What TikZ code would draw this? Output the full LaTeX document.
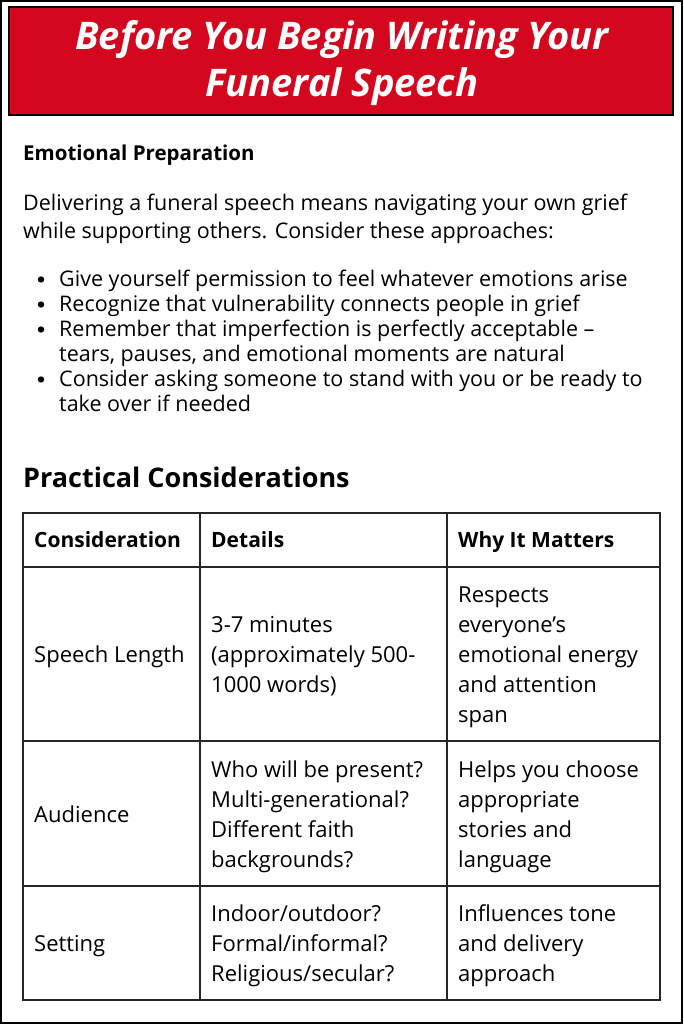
\documentclass[tikz,border=0pt]{standalone}
\usepackage{fontspec}
\setmainfont{Open Sans}
\definecolor{hred}{HTML}{D3071E}
\begin{document}
\begin{tikzpicture}[x=1pt,y=-1pt,
  t/.style={anchor=base west,inner sep=0pt,font=\fontsize{21.5}{21.5}\selectfont},
  tc/.style={t,font=\fontsize{22}{22}\selectfont},
  th/.style={t,font=\fontsize{21}{21}\selectfont\bfseries},
  ttl/.style={anchor=base,inner sep=0pt,text=white,font=\fontsize{38}{38}\selectfont\bfseries\itshape},
  grid/.style={line width=1.3pt,black!85}]
\useasboundingbox (0,0) rectangle (683,1024);
\draw[line width=2pt] (1,1) rectangle (682,1023);
\draw[fill=hred,line width=1.8pt] (9,7) rectangle (673,115);
\node[ttl] (t1) at (342,50) {Before You Begin Writing Your};
\node[ttl] (t2) at (342,97) {Funeral Speech};
\node[th,font=\fontsize{20.5}{20.5}\selectfont\bfseries] (h1) at (23,161) {Emotional Preparation};
\node[t] (p1) at (23,211) {Delivering a funeral speech means navigating your own grief};
\node[t] (p2) at (23,238) {while supporting others. Consider these approaches:};
\foreach \y/\s in {286/Give yourself permission to feel whatever emotions arise,
  311/Recognize that vulnerability connects people in grief,
  336/Remember that imperfection is perfectly acceptable –,
  386/Consider asking someone to stand with you or be ready to}{
  \fill (41,\y-6.5) circle (3.2);
  \node[t] at (59,\y) {\s};}
\node[t] (b3) at (59,361) {tears, pauses, and emotional moments are natural};
\node[t] (b4) at (59,411) {take over if needed};
\node[th,font=\fontsize{27}{27}\selectfont\bfseries] (h2) at (23,487) {Practical Considerations};
% table
\draw[grid] (23,513) rectangle (660,1000);
\foreach \y in {567,741,886} \draw[grid] (23,\y) -- (660,\y);
\foreach \x in {200,447} \draw[grid] (\x,513) -- (\x,1000);
\node[th] at (34,547) {Consideration};
\node[th] at (211,547) {Details};
\node[th] at (458,547) {Why It Matters};
\node[tc] at (34,662) {Speech Length};
\node[tc] at (211,632) {3-7 minutes};
\node[tc] at (211,662) {(approximately 500-};
\node[tc] at (211,692) {1000 words)};
\node[tc] at (458,602) {Respects};
\node[tc] at (458,632) {everyone{\char"0027}s};
\node[tc] at (458,662) {emotional energy};
\node[tc] at (458,692) {and attention};
\node[tc] at (458,722) {span};
\node[tc] at (34,822) {Audience};
\node[tc] at (211,777) {Who will be present?};
\node[tc] at (211,807) {Multi-generational?};
\node[tc] at (211,837) {Different faith};
\node[tc] at (211,867) {backgrounds?};
\node[tc] at (458,777) {Helps you choose};
\node[tc] at (458,807) {appropriate};
\node[tc] at (458,837) {stories and};
\node[tc] at (458,867) {language};
\node[tc] at (34,951) {Setting};
\node[tc] at (211,921) {Indoor/outdoor?};
\node[tc] at (211,951) {Formal/informal?};
\node[tc] at (211,981) {Religious/secular?};
\node[tc] at (458,921) {Influences tone};
\node[tc] at (458,951) {and delivery};
\node[tc] at (458,981) {approach};
\end{tikzpicture}
\end{document}
